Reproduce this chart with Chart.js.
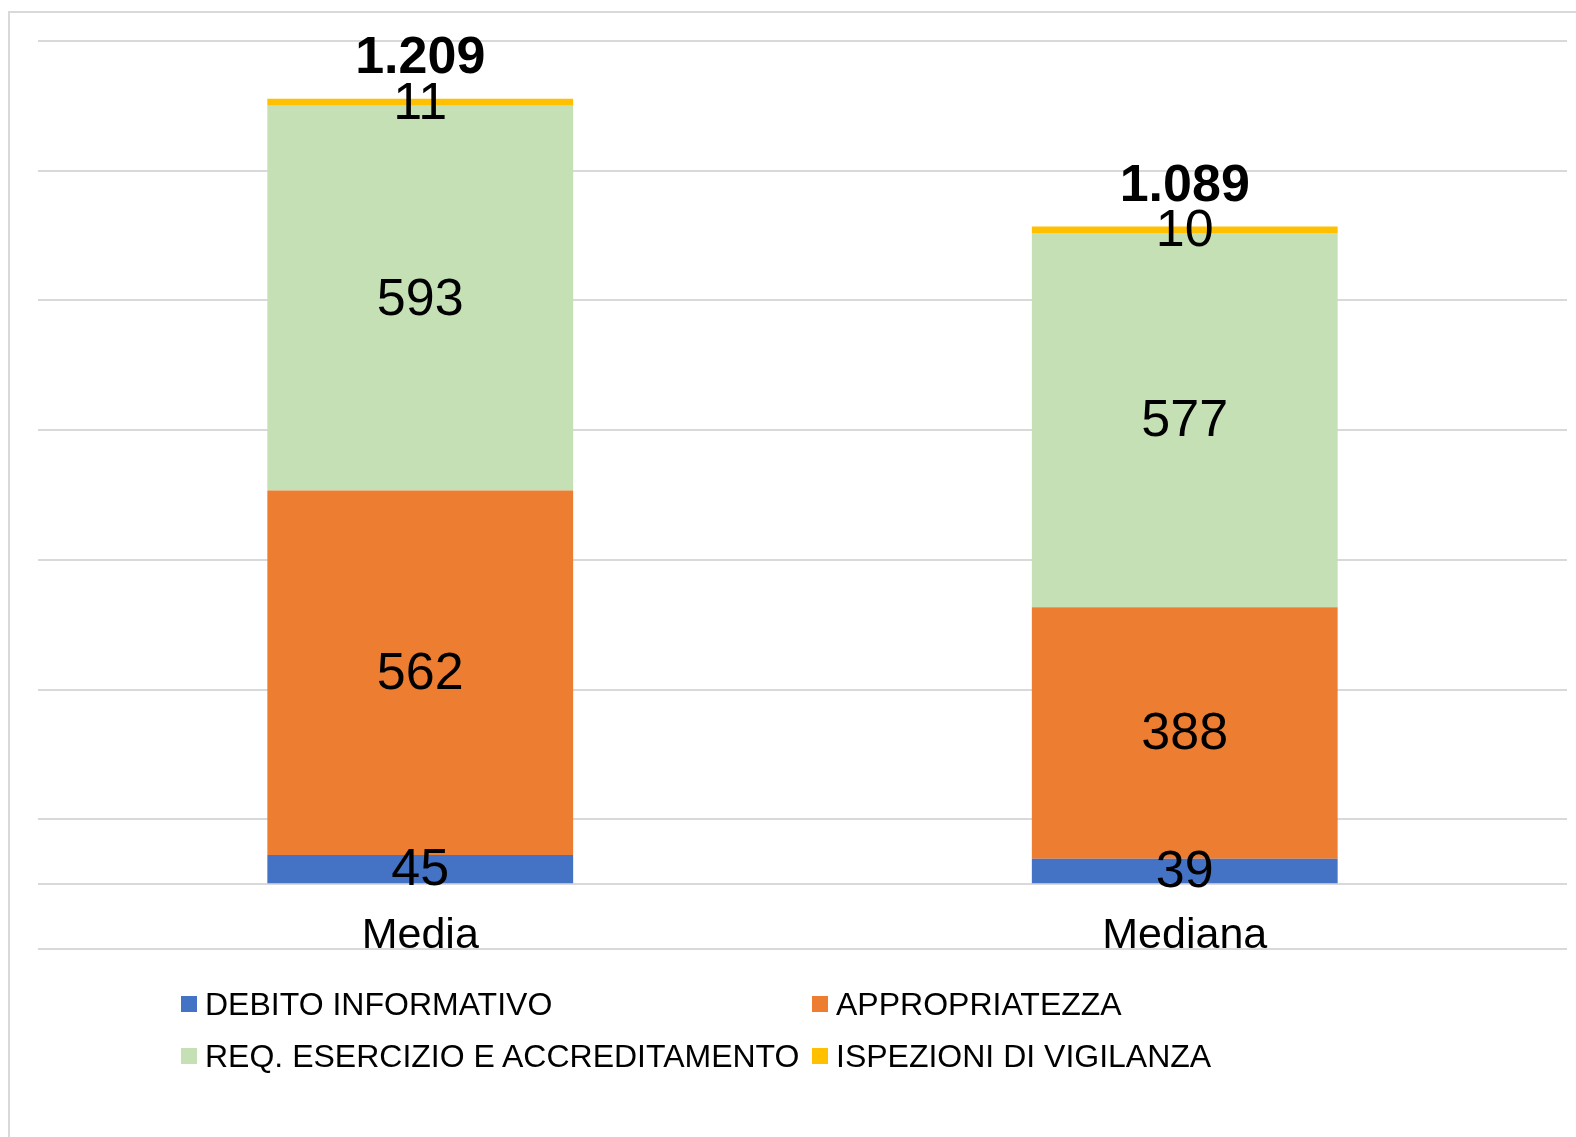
<!DOCTYPE html>
<html>
<head>
<meta charset="utf-8">
<script src="https://cdn.jsdelivr.net/npm/chart.js@4.4.1/dist/chart.umd.min.js"></script>
<style>
  html, body { margin: 0; padding: 0; background: #fff; }
  body { width: 1576px; height: 1137px; position: relative; overflow: hidden; font-family: 'Liberation Sans', Arial, sans-serif; }
  #frame { position: absolute; left: 8px; top: 11px; width: 1600px; height: 1200px; border-left: 2px solid #d9d9d9; border-top: 2px solid #d9d9d9; }
  #wrap { position: absolute; left: 0; top: 0; width: 1576px; height: 1137px; }
  .legend { position: absolute; font-size: 32px; color: #000; line-height: 1; white-space: nowrap; }
  .legend span.box { display: inline-block; width: 16px; height: 16px; margin-right: 8px; vertical-align: 3px; }
</style>
</head>
<body>
<div id="frame"></div>
<div id="wrap"><canvas id="chart" width="1576" height="1137"></canvas></div>
<div id="legend"></div>
<script>
const categories = ['Media', 'Mediana'];
const seriesNames = ['DEBITO INFORMATIVO', 'APPROPRIATEZZA', 'REQ. ESERCIZIO E ACCREDITAMENTO', 'ISPEZIONI DI VIGILANZA'];
const seriesColors = ['#4472C4', '#ED7D31', '#C5E0B4', '#FFC000'];
const debito = [45, 39];
const appropriatezza = [562, 388];
const requisiti = [593, 577];
const ispezioni = [11, 10];
const totali = [1209, 1089];
const gridTicks = [-100, 0, 100, 300, 500, 700, 900, 1100, 1300];

const seriesValues = [debito, appropriatezza, requisiti, ispezioni];
const fmt = v => v.toLocaleString('it-IT');

// legend in two columns, like the original
const legendPos = [[181, 988], [812, 988], [181, 1040], [812, 1040]];
const legendEl = document.getElementById('legend');
seriesNames.forEach((name, i) => {
  const d = document.createElement('div');
  d.className = 'legend';
  d.style.left = legendPos[i][0] + 'px';
  d.style.top = legendPos[i][1] + 'px';
  d.innerHTML = `<span class="box" style="background:${seriesColors[i]}"></span>${name}`;
  legendEl.appendChild(d);
});

const labelsPlugin = {
  id: 'labels',
  afterDatasetsDraw(chart) {
    const ctx = chart.ctx;
    const x = chart.scales.x, y = chart.scales.y;
    ctx.save();
    ctx.fillStyle = '#000';
    ctx.textAlign = 'center';
    // segment values
    ctx.font = '52px "Liberation Sans", Arial, sans-serif';
    ctx.textBaseline = 'middle';
    chart.data.datasets.forEach((ds, di) => {
      chart.getDatasetMeta(di).data.forEach((bar, i) => {
        ctx.fillText(fmt(ds.data[i]), bar.x, (bar.y + bar.base) / 2 + 2);
      });
    });
    // totals above the stacks
    ctx.font = 'bold 52px "Liberation Sans", Arial, sans-serif';
    categories.forEach((c, i) => {
      const sum = seriesValues.reduce((a, s) => a + s[i], 0);
      ctx.fillText(fmt(totali[i]), x.getPixelForValue(i), y.getPixelForValue(sum) - 40);
    });
    // category labels
    ctx.font = '43px "Liberation Sans", Arial, sans-serif';
    ctx.textBaseline = 'alphabetic';
    categories.forEach((c, i) => {
      ctx.fillText(c, x.getPixelForValue(i), y.getPixelForValue(-100) - 1);
    });
    ctx.restore();
  }
};

new Chart(document.getElementById('chart'), {
  type: 'bar',
  data: {
    labels: categories,
    datasets: seriesNames.map((name, i) => ({
      label: name,
      data: seriesValues[i],
      backgroundColor: seriesColors[i],
      borderWidth: 0,
      categoryPercentage: 1,
      barPercentage: 0.4
    }))
  },
  options: {
    responsive: false,
    animation: false,
    layout: { padding: { left: 38, right: 9, top: 41, bottom: 180 } },
    plugins: { legend: { display: false }, tooltip: { enabled: false } },
    scales: {
      x: {
        stacked: true,
        ticks: { display: false },
        grid: { display: false },
        border: { display: false }
      },
      y: {
        stacked: true,
        min: -100,
        max: 1300,
        afterBuildTicks: axis => { axis.ticks = gridTicks.map(v => ({ value: v })); },
        ticks: { display: false },
        grid: { color: '#d9d9d9', lineWidth: 2, drawTicks: false },
        border: { display: false }
      }
    }
  },
  plugins: [labelsPlugin]
});
</script>
</body>
</html>
